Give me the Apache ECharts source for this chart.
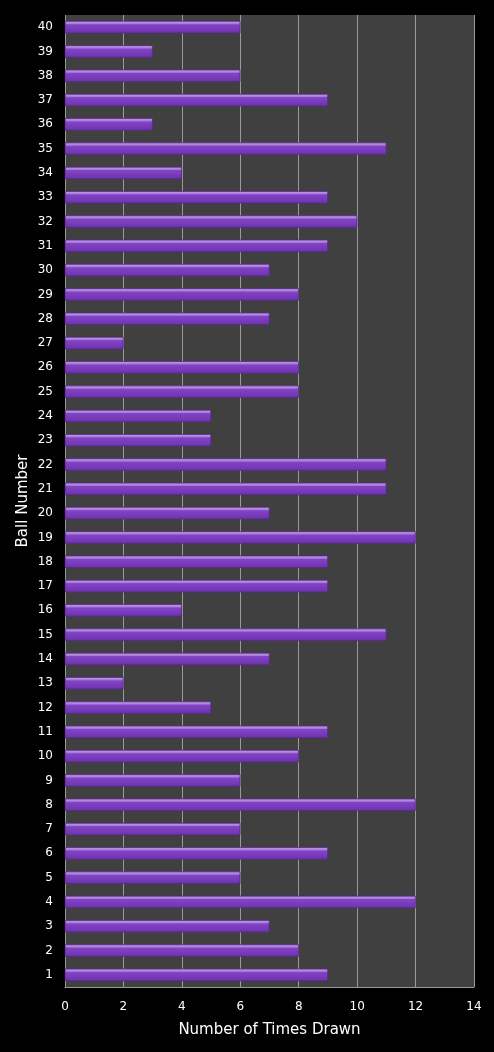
<!DOCTYPE html>
<html>
<head>
<meta charset="utf-8">
<style>
html, body { margin: 0; padding: 0; background: #000; }
#main { width: 494px; height: 1052px; }
</style>
<script src="https://cdn.jsdelivr.net/npm/echarts@6/dist/echarts.min.js"></script>
</head>
<body>
<div id="main"></div>
<script>
// ball numbers, bottom to top
var balls = [];
for (var i = 1; i <= 40; i++) balls.push(String(i));

// times drawn for balls 1..40
var timesDrawn = [9, 8, 7, 12, 6, 9, 6, 12, 6, 8,
                  9, 5, 2, 7, 11, 4, 9, 9, 12, 7,
                  11, 11, 5, 5, 8, 8, 2, 7, 8, 7,
                  9, 10, 9, 4, 11, 3, 9, 6, 3, 6];

var xTicks = [0, 2, 4, 6, 8, 10, 12, 14];

var myChart = echarts.init(document.getElementById('main'));
var option = {
    backgroundColor: '#000',
    textStyle: { fontFamily: 'DejaVu Sans' },
    grid: {
        left: 65,
        right: 20,
        top: 15,
        bottom: 65,
        show: true,
        backgroundColor: '#404040',
        borderWidth: 0
    },
    xAxis: {
        type: 'value',
        min: xTicks[0],
        max: xTicks[xTicks.length - 1],
        interval: 2,
        name: 'Number of Times Drawn',
        nameLocation: 'middle',
        nameGap: 36,
        nameMoveOverlap: false,
        nameTextStyle: { color: '#fff', fontSize: 15 },
        axisLine: { show: true, lineStyle: { color: '#999' } },
        axisTick: { show: false },
        axisLabel: { color: '#fff', fontSize: 12, margin: 14 },
        splitLine: { show: true, lineStyle: { color: '#9a9a9a', width: 1 } }
    },
    yAxis: {
        type: 'category',
        data: balls,
        name: 'Ball Number',
        nameLocation: 'middle',
        nameGap: 34,
        nameMoveOverlap: false,
        nameRotate: 90,
        nameTextStyle: { color: '#fff', fontSize: 15 },
        axisLine: { show: false },
        axisTick: { show: false },
        axisLabel: { color: '#fff', fontSize: 12, margin: 12 }
    },
    series: [
        {
            name: 'Times Drawn',
            type: 'bar',
            data: timesDrawn,
            barCategoryGap: '50%',
            itemStyle: {
                color: {
                    type: 'linear', x: 0, y: 0, x2: 0, y2: 1,
                    colorStops: [
                        { offset: 0, color: '#c9a4ee' },
                        { offset: 0.22, color: '#a67ad8' },
                        { offset: 0.3, color: '#8244c6' },
                        { offset: 1, color: '#6e32ae' }
                    ]
                },
                borderColor: '#5a2a8a',
                borderWidth: 0.5
            }
        }
    ]
};
myChart.setOption(option);
</script>
</body>
</html>
